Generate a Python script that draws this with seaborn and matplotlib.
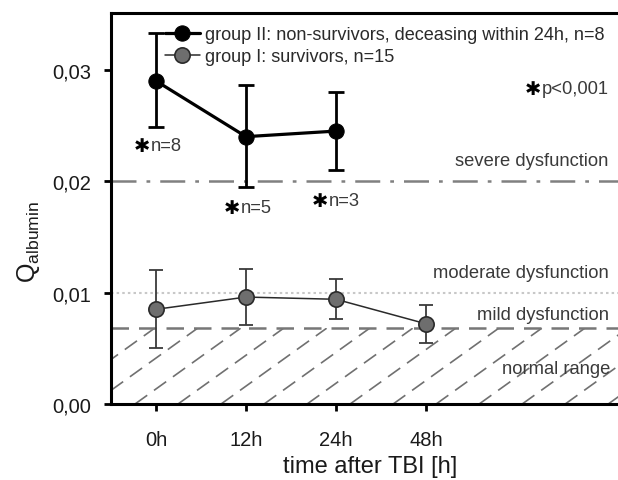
import numpy as np
import pandas as pd
import matplotlib
matplotlib.use("Agg")
import matplotlib.pyplot as plt
import seaborn as sns

# ---- data ----
times = ["0h", "12h", "24h", "48h"]
g2_mean = [0.0290, 0.0240, 0.0245]
g2_lo = [0.0249, 0.0195, 0.0210]
g2_hi = [0.0333, 0.0286, 0.0280]
g1_mean = [0.0085, 0.0096, 0.0094, 0.0072]
g1_lo = [0.0050, 0.0071, 0.0076, 0.0055]
g1_hi = [0.0120, 0.0121, 0.0112, 0.0089]
severe = 0.020
moderate = 0.010
mild = 0.0068
g2_label = "group II: non-survivors, deceasing within 24h, n=8"
g1_label = "group I: survivors, n=15"
n_labels = ["n=8", "n=5", "n=3"]

sns.set_theme(style="white")
plt.rcParams["font.family"] = ["Liberation Sans", "DejaVu Sans"]
plt.rcParams["mathtext.fontset"] = "custom"
plt.rcParams["mathtext.rm"] = "Liberation Sans"
plt.rcParams["mathtext.it"] = "Liberation Sans"

fig = plt.figure(figsize=(6.18, 4.81), dpi=100)
ax = fig.add_axes([111 / 618, 1 - 405 / 481, (630 - 111) / 618, (405 - 14) / 481])

pos = {t: i for i, t in enumerate(times)}
df1 = pd.DataFrame({"x": [pos[t] for t in times], "y": g1_mean, "group": g1_label})
df2 = pd.DataFrame({"x": [pos[t] for t in times[:3]], "y": g2_mean, "group": g2_label})

XMIN, XMAX = -0.5, -0.5 + 519 / 90
YMAX = 0.0351

# hatched normal range (dashed diagonal lines clipped to region)
clip = ax.fill_between([XMIN, XMAX], 0, mild, color="none", lw=0)
slope = 0.0058
starts = np.arange(-0.233 - 6 * 0.478, XMAX + 0.5, 0.478)
for s in starts:
    xs = np.array([s, s + mild / slope])
    ln, = ax.plot(xs, [0, mild], color="#707070", lw=1.2, dashes=(9, 5), zorder=1)
    ln.set_clip_path(clip.get_paths()[0], ax.transData)

# reference lines
ax.axhline(severe, color="#808080", lw=1.8, dashes=(10, 4, 1.5, 4), zorder=1)
ax.axhline(moderate, color="#c8c8c8", lw=1.5, dashes=(1.2, 1.5), zorder=1)
ax.axhline(mild, color="#777777", lw=1.8, dashes=(7, 4), zorder=1)

# error bars
ax.errorbar(df1["x"], g1_mean,
            yerr=[np.array(g1_mean) - np.array(g1_lo), np.array(g1_hi) - np.array(g1_mean)],
            fmt="none", ecolor="#3a3a3a", elinewidth=1.3, capsize=5, capthick=1.3, zorder=2)
ax.errorbar(df2["x"], g2_mean,
            yerr=[np.array(g2_mean) - np.array(g2_lo), np.array(g2_hi) - np.array(g2_mean)],
            fmt="none", ecolor="black", elinewidth=2, capsize=6, capthick=2, zorder=2)

sns.lineplot(data=df2, x="x", y="y", ax=ax, color="black", lw=2.3, marker="o",
             markersize=11, markeredgecolor="black", markerfacecolor="black",
             label=g2_label, zorder=4)
sns.lineplot(data=df1, x="x", y="y", ax=ax, color="#2a2a2a", lw=1.1, marker="o",
             markersize=11, markeredgecolor="#2a2a2a", markerfacecolor="#6e6e6e",
             markeredgewidth=1.2, label=g1_label, zorder=4)

ax.set_xlim(XMIN, XMAX)
ax.set_ylim(0, YMAX)
ax.set_xticks(range(len(times)))
ax.set_xticklabels(times)
yt = [0.0, 0.01, 0.02, 0.03]
ax.set_yticks(yt)
ax.set_yticklabels([f"{v:.2f}".replace(".", ",") for v in yt])
ax.tick_params(axis="both", direction="out", length=5, width=2, color="black",
               labelsize=14.5, labelcolor="#1a1a1a")
ax.tick_params(axis="x", pad=14)
ax.tick_params(axis="y", pad=9)
ax.xaxis.set_ticks_position("bottom")
ax.yaxis.set_ticks_position("left")
for side in ["left", "bottom", "top"]:
    ax.spines[side].set_linewidth(2.2)
    ax.spines[side].set_color("black")
ax.spines["right"].set_visible(False)

ax.set_xlabel("time after TBI [h]", fontsize=17, color="#1a1a1a", labelpad=4)
ax.set_ylabel(r"Q$_{\mathrm{albumin}}$", fontsize=18, color="#1a1a1a")
ax.yaxis.set_label_coords(-0.133, 0.417)
ax.grid(False)

leg = ax.legend(loc="upper left", bbox_to_anchor=(0.09, 0.985), frameon=False,
                fontsize=13.1, handlelength=1.9, handletextpad=0.3, labelspacing=0.28,
                borderaxespad=0)
for t in leg.get_texts():
    t.set_color("#2a2a2a")

# zone labels
tc = "#3a3a3a"
xr = 5.03
fs = 13.2
ax.text(xr, 0.0219, "severe dysfunction", ha="right", va="center", fontsize=fs, color=tc)
ax.text(xr, 0.01177, "moderate dysfunction", ha="right", va="center", fontsize=fs, color=tc)
ax.text(xr, 0.0080, "mild dysfunction", ha="right", va="center", fontsize=fs, color=tc)
ax.text(xr + 0.02, 0.00323, "normal range", ha="right", va="center", fontsize=fs, color=tc)

# significance marks
star_xy = [(-0.156, 0.0232), (0.844, 0.0176), (1.82, 0.0183)]
for (sx, sy), lab in zip(star_xy, n_labels):
    ax.text(sx, sy, "✱", ha="center", va="center", fontsize=14, color="black",
            family="DejaVu Sans")
    ax.text(sx + 0.1, sy, lab, ha="left", va="center", fontsize=fs, color=tc)
ax.text(4.19, 0.0283, "✱", ha="center", va="center", fontsize=14, color="black",
        family="DejaVu Sans")
ax.text(xr, 0.0283, "p<0,001", ha="right", va="center", fontsize=fs, color=tc)

fig.savefig("out.png", dpi=100)
